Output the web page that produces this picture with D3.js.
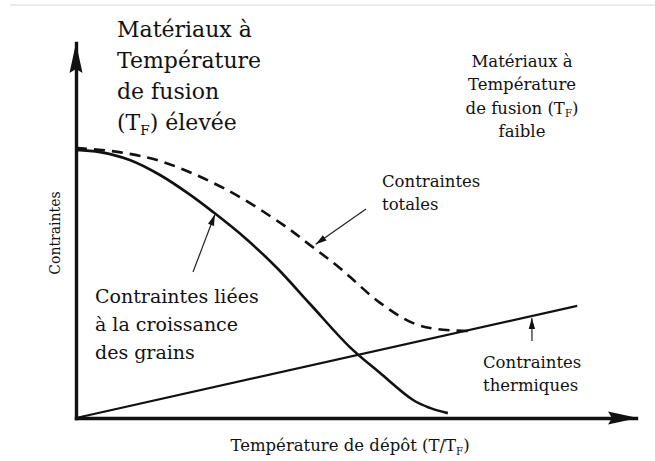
<!DOCTYPE html>
<html>
<head>
<meta charset="utf-8">
<script src="https://cdn.jsdelivr.net/npm/d3@7"></script>
<style>
  html, body { margin: 0; padding: 0; background: #fff; }
  svg { display: block; }
  text { font-family: "DejaVu Serif", serif; fill: #111; }
</style>
</head>
<body>
<svg id="chart" width="655" height="461"></svg>
<script>
// Deposition temperature (T/TF, normalised) and stress (arbitrary units)
const grainX   = [0, 0.043, 0.096, 0.15, 0.204, 0.245, 0.302, 0.359, 0.418, 0.489, 0.543, 0.602, 0.632, 0.664];
const grainY   = [0.715, 0.709, 0.688, 0.648, 0.595, 0.549, 0.48, 0.40, 0.304, 0.189, 0.12, 0.048, 0.027, 0.013];

const totalX   = [0, 0.077, 0.155, 0.27, 0.37, 0.418, 0.471, 0.543, 0.602, 0.645, 0.70];
const totalY   = [0.72, 0.709, 0.683, 0.608, 0.515, 0.461, 0.40, 0.307, 0.253, 0.237, 0.232];

const thermalX = [0, 0.895];
const thermalY = [0, 0.299];

const xDomain = [0, 1];
const yDomain = [0, 1];

const svg = d3.select("#chart");

const x = d3.scaleLinear().domain(xDomain).range([76, 636]);
const y = d3.scaleLinear().domain(yDomain).range([418, 43]);

// thin frame line along the top edge
svg.append("line")
  .attr("x1", 10).attr("x2", 655).attr("y1", 5).attr("y2", 5)
  .attr("stroke", "#ebebeb").attr("stroke-width", 2);

const zip = (xs, ys) => xs.map((v, i) => [v, ys[i]]);
const line = d3.line().x(d => x(d[0])).y(d => y(d[1])).curve(d3.curveCatmullRom.alpha(0.5));

// thermal stress (straight)
svg.append("path")
  .attr("d", line(zip(thermalX, thermalY)))
  .attr("fill", "none").attr("stroke", "#111").attr("stroke-width", 2.2);

// growth-related stress
svg.append("path")
  .attr("d", line(zip(grainX, grainY)))
  .attr("fill", "none").attr("stroke", "#111").attr("stroke-width", 2.6);

// total stress (dashed)
svg.append("path")
  .attr("d", line(zip(totalX, totalY)))
  .attr("fill", "none").attr("stroke", "#111").attr("stroke-width", 2.6)
  .attr("stroke-dasharray", "11,7");

// axes without ticks, finished with arrowheads
const xAxis = svg.append("g").attr("transform", `translate(0,${y(0)})`)
  .call(d3.axisBottom(x).tickValues([]).tickSizeOuter(0));
const yAxis = svg.append("g").attr("transform", `translate(${x(0)},0)`)
  .call(d3.axisLeft(y).tickValues([]).tickSizeOuter(0));
[xAxis, yAxis].forEach(g => g.select(".domain")
  .attr("stroke", "#111").attr("stroke-width", 3.4).attr("stroke-linecap", "square"));

const x0 = x(0), y0 = y(0), xEnd = x(xDomain[1]), yEnd = y(yDomain[1]);
svg.append("path")
  .attr("d", `M${xEnd + 2},${y0} L${xEnd - 28},${y0 - 6.5} L${xEnd - 24},${y0} L${xEnd - 28},${y0 + 6.5} Z`)
  .attr("fill", "#111");
svg.append("path")
  .attr("d", `M${x0},${yEnd} L${x0 - 6.5},${yEnd + 30} L${x0},${yEnd + 26} L${x0 + 6.5},${yEnd + 30} Z`)
  .attr("fill", "#111");

// leader arrows pointing to the curves
function leader(x1, y1, x2, y2) {
  svg.append("line")
    .attr("x1", x1).attr("y1", y1).attr("x2", x2).attr("y2", y2)
    .attr("stroke", "#222").attr("stroke-width", 1.2);
  const a = Math.atan2(y2 - y1, x2 - x1);
  const L = 11, W = 3.2;
  const bx = x2 - L * Math.cos(a), by = y2 - L * Math.sin(a);
  const px = -Math.sin(a) * W, py = Math.cos(a) * W;
  svg.append("path")
    .attr("d", `M${x2},${y2} L${bx + px},${by + py} L${bx - px},${by - py} Z`)
    .attr("fill", "#111");
}
leader(193, 272, x(0.248), y(0.548) + 2);
leader(366, 209, x(0.428), y(0.466) + 1);
leader(532, 341, x(0.814), y(0.272) + 2);

// multi-line text helper; parts may carry a subscript
function block(lines, opts) {
  const t = svg.append("text")
    .attr("x", opts.x).attr("y", opts.y)
    .attr("font-size", opts.size)
    .attr("text-anchor", opts.anchor || "start");
  lines.forEach((ln, i) => {
    const parts = Array.isArray(ln) ? ln : [ln];
    parts.forEach((p, j) => {
      const ts = t.append("tspan");
      if (j === 0) ts.attr("x", opts.x).attr("dy", i === 0 ? 0 : opts.lh);
      if (typeof p === "object") {
        ts.text(p.sub).attr("font-size", opts.size * 0.62).attr("dy", opts.size * 0.22);
      } else {
        ts.text(p);
        if (j > 0 && typeof parts[j - 1] === "object") ts.attr("dy", -opts.size * 0.22);
      }
    });
  });
  return t;
}

block(["Matériaux à", "Température", "de fusion", ["(T", {sub: "F"}, ") élevée"]],
  {x: 117, y: 37, size: 22, lh: 31});

block(["Matériaux à", "Température", ["de fusion (T", {sub: "F"}, ")"], "faible"],
  {x: 522, y: 67, size: 16.5, lh: 23.3, anchor: "middle"});

block(["Contraintes", "totales"], {x: 382, y: 187, size: 16.5, lh: 23});

block(["Contraintes liées", "à la croissance", "des grains"], {x: 95, y: 303, size: 19, lh: 28});

block(["Contraintes", "thermiques"], {x: 483, y: 368, size: 16.5, lh: 23});

// axis titles
block([["Température de dépôt (T/T", {sub: "F"}, ")"]], {x: 350, y: 451, size: 16.5, lh: 0, anchor: "middle"});

svg.append("text")
  .attr("transform", `translate(60,233) rotate(-90)`)
  .attr("text-anchor", "middle")
  .attr("font-size", 14)
  .text("Contraintes");
</script>
</body>
</html>
